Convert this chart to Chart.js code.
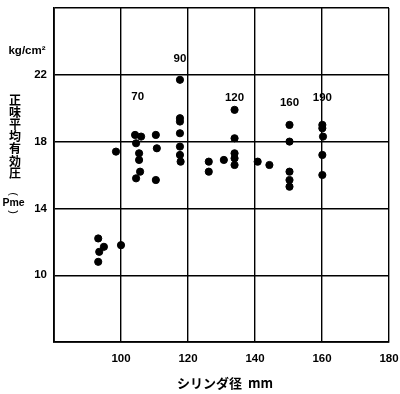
<!DOCTYPE html>
<html>
<head>
<meta charset="utf-8">
<script src="https://cdn.jsdelivr.net/npm/chart.js@4/dist/chart.umd.min.js"></script>
<style>
  body { margin: 0; background: #fff; }
  #wrap { width: 400px; height: 394px; }
</style>
</head>
<body>
<div id="wrap"><canvas id="grafico"></canvas></div>
<script>
// dados: diâmetro do cilindro (mm) x pressão média efetiva (kg/cm2)
const boreMm = [
  93.2, 93.5, 94.9, 93.2, 100.0, 98.5,
  104.2, 106.0, 104.5, 105.4, 105.4, 105.7, 104.5, 110.4, 110.7, 110.4,
  117.6, 117.6, 117.6, 117.6, 117.6, 117.6, 117.8,
  126.2, 126.2, 130.7,
  133.9, 133.9, 133.9, 133.9, 133.9, 140.8, 144.3,
  150.3, 150.3, 150.3, 150.3, 150.3,
  160.1, 160.1, 160.3, 160.1, 160.1
];
const pmeValues = [
  12.2, 11.4, 11.7, 10.8, 11.8, 17.4,
  18.4, 18.3, 17.9, 17.3, 16.9, 16.2, 15.8, 18.4, 17.6, 15.7,
  21.7, 19.4, 19.2, 18.5, 17.7, 17.2, 16.8,
  16.8, 16.2, 16.9,
  19.9, 18.2, 17.3, 17.0, 16.6, 16.8, 16.6,
  19.0, 18.0, 16.2, 15.7, 15.3,
  19.0, 18.8, 18.3, 17.2, 16.0
];

// rótulos dos grupos (posição em unidades dos eixos)
const groupLabels = ['70', '90', '120', '160', '190'];
const groupLabelX = [105.0, 117.6, 133.9, 150.3, 160.1];
const groupLabelY = [20.7, 22.95, 20.6, 20.3, 20.6];

const xTicks = [100, 120, 140, 160, 180];
const yTicks = [10, 14, 18, 22];
const yTitleChars = ['正', '味', '平', '均', '有', '効', '圧'];

const jpFont = "'Noto Sans CJK JP', sans-serif";
const numFont = "'Liberation Sans', Arial, sans-serif";

// texto girado 90 graus (parênteses verticais)
function textoGirado(ctx, t, x, y) {
  ctx.save();
  ctx.translate(x, y);
  ctx.rotate(Math.PI / 2);
  ctx.fillText(t, 0, 0);
  ctx.restore();
}

// plugin para textos fixos: títulos dos eixos, unidade e rótulos dos grupos
const textosPlugin = {
  id: 'textos',
  afterDraw(chart) {
    const ctx = chart.ctx;
    const xs = chart.scales.x, ys = chart.scales.y;
    ctx.save();
    ctx.fillStyle = '#000';
    ctx.textAlign = 'center';
    ctx.textBaseline = 'middle';

    ctx.font = 'bold 11.5px ' + numFont;
    groupLabels.forEach((t, i) => {
      ctx.fillText(t, xs.getPixelForValue(groupLabelX[i]), ys.getPixelForValue(groupLabelY[i]));
    });

    ctx.font = 'bold 11.5px ' + numFont;
    ctx.fillText('kg/cm²', 27, 51);

    ctx.font = 'bold 12px ' + jpFont;
    yTitleChars.forEach((c, i) => ctx.fillText(c, 15, 100 + i * 12.2));
    ctx.font = '11px ' + numFont;
    textoGirado(ctx, '(', 13, 194);
    ctx.font = 'bold 10.5px ' + numFont;
    ctx.fillText('Pme', 13.5, 203);
    ctx.font = '11px ' + numFont;
    textoGirado(ctx, ')', 13, 212);

    ctx.font = 'bold 13px ' + jpFont;
    ctx.fillText('シリンダ径  mm', 225, 383);
    ctx.restore();
  }
};

new Chart(document.getElementById('grafico'), {
  type: 'scatter',
  data: {
    datasets: [{
      data: boreMm.map((x, i) => ({ x: x, y: pmeValues[i] })),
      backgroundColor: '#000',
      borderColor: '#000',
      pointRadius: 3.6,
      pointHoverRadius: 3.6
    }]
  },
  options: {
    responsive: true,
    maintainAspectRatio: false,
    animation: false,
    events: [],
    layout: { padding: { top: 8, right: 11, left: 0, bottom: 0 } },
    plugins: { legend: { display: false }, tooltip: { enabled: false } },
    scales: {
      x: {
        type: 'linear',
        min: 80, max: 180,
        afterBuildTicks: s => { s.ticks = [80].concat(xTicks).map(v => ({ value: v })); },
        afterFit: s => { s.height = 52; s.paddingLeft = 0; s.paddingRight = 0; },
        grid: { color: '#000', lineWidth: 1.4, drawTicks: false },
        border: { color: '#000', width: 1.8 },
        ticks: {
          padding: 10,
          color: '#000',
          font: { family: numFont, size: 11.5, weight: 'bold' },
          maxRotation: 0,
          callback: v => xTicks.includes(v) ? String(v) : ''
        }
      },
      y: {
        type: 'linear',
        min: 6, max: 26,
        afterBuildTicks: s => { s.ticks = [6].concat(yTicks, [26]).map(v => ({ value: v })); },
        afterFit: s => { s.width = 54; s.paddingTop = 0; s.paddingBottom = 0; },
        grid: { color: '#000', lineWidth: 1.4, drawTicks: false },
        border: { color: '#000', width: 1.8 },
        ticks: {
          padding: 7,
          color: '#000',
          font: { family: numFont, size: 11.5, weight: 'bold' },
          callback: v => yTicks.includes(v) ? String(v) : ''
        }
      }
    }
  },
  plugins: [textosPlugin]
});
</script>
</body>
</html>
